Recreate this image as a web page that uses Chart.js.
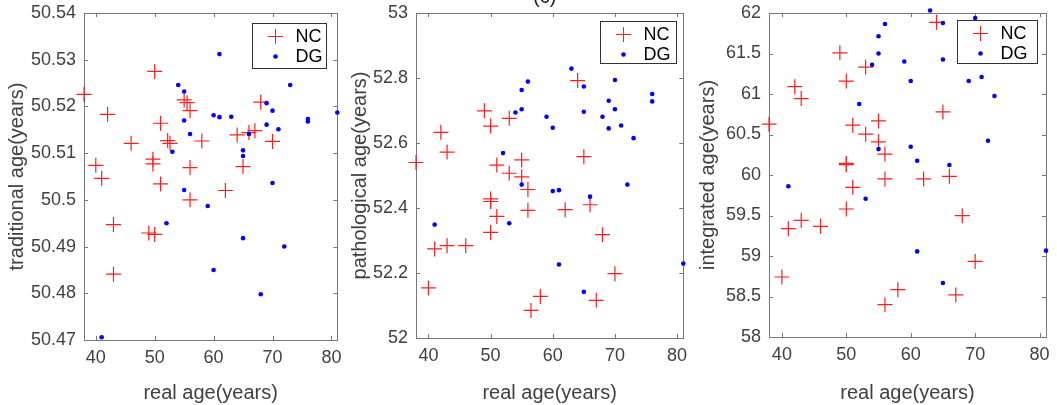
<!DOCTYPE html>
<html>
<head>
<meta charset="utf-8">
<script src="https://cdn.jsdelivr.net/npm/chart.js@4.4.1/dist/chart.umd.min.js"></script>
<style>
  html, body { margin: 0; padding: 0; background: #fff; }
  #wrap { position: relative; width: 1057px; height: 405px; overflow: hidden; }
  canvas { position: absolute; top: 0; }
</style>
</head>
<body>
<div id="wrap">
  <canvas id="c1" width="346" height="405" style="left:0"></canvas>
  <canvas id="c2" width="346" height="405" style="left:346px"></canvas>
  <canvas id="c3" width="365" height="405" style="left:692px"></canvas>
</div>
<script>
// tick labels
const xTicks = [40, 50, 60, 70, 80];
const tradTicks = [50.47, 50.48, 50.49, 50.5, 50.51, 50.52, 50.53, 50.54];
const pathTicks = [52, 52.2, 52.4, 52.6, 52.8, 53];
const intTicks = [58, 58.5, 59, 59.5, 60, 60.5, 61, 61.5, 62];

// traditional age panel
const ncAge1 = [38, 40, 41, 42, 43, 43, 46, 49, 50, 49.7, 49.7, 50, 51, 51, 52.2, 52.6, 55, 55.5, 56, 56, 56, 58, 62, 64, 65, 66, 67, 68, 70];
const ncTrad = [50.5226, 50.5074, 50.5046, 50.5183, 50.4947, 50.4841, 50.5121, 50.4929, 50.4926, 50.5087, 50.5077, 50.5275, 50.5164, 50.5034, 50.5127, 50.5121, 50.5214, 50.5208, 50.5191, 50.5069, 50.5000, 50.5126, 50.5020, 50.5139, 50.5071, 50.5144, 50.5148, 50.5209, 50.5125];
const dgAge1 = [41, 52, 53, 54, 55, 55, 55, 56, 59, 60, 60, 61, 61, 63, 65, 65, 65, 66, 68, 69, 69, 70, 70, 71, 72, 73, 76, 76, 81];
const dgTrad = [50.4706, 50.4950, 50.5103, 50.5246, 50.5232, 50.5170, 50.5021, 50.5141, 50.4987, 50.5181, 50.4850, 50.5312, 50.5177, 50.5178, 50.5106, 50.5094, 50.4918, 50.5141, 50.4798, 50.5207, 50.5161, 50.5191, 50.5036, 50.5151, 50.4900, 50.5246, 50.5173, 50.5168, 50.5187];

// pathological age panel
const ncAge2 = [38, 40, 41, 42, 43, 43, 46, 49, 50, 50, 50, 50, 51, 53, 51, 53, 55, 55, 56, 56, 56.5, 58, 62, 64, 65, 66, 67, 68, 70];
const ncPath = [52.540, 52.154, 52.274, 52.633, 52.572, 52.284, 52.284, 52.699, 52.652, 52.428, 52.420, 52.325, 52.532, 52.676, 52.374, 52.507, 52.548, 52.496, 52.457, 52.393, 52.085, 52.128, 52.395, 52.792, 52.558, 52.410, 52.116, 52.318, 52.198];
const dgAge2 = [41, 52, 53, 54, 55, 55, 55, 56, 59, 60, 60, 61, 61, 63, 65, 65, 65, 66, 68, 69, 69, 70, 70, 71, 72, 73, 76, 76, 81];
const dgPath = [52.349, 52.569, 52.353, 52.694, 52.763, 52.704, 52.472, 52.789, 52.681, 52.647, 52.452, 52.455, 52.226, 52.829, 52.774, 52.696, 52.142, 52.435, 52.681, 52.730, 52.645, 52.794, 52.704, 52.654, 52.472, 52.615, 52.751, 52.728, 52.229];

// integrated age panel
const ncAge3 = [38, 40, 41, 42, 43, 43, 46, 49, 50, 50, 50, 50, 51, 51, 53, 53, 55, 55, 56, 56, 56, 58, 62, 64, 65, 66, 67, 68, 70];
const ncInt = [60.627, 58.741, 59.337, 61.090, 60.943, 59.440, 59.366, 61.508, 61.160, 60.143, 60.127, 59.580, 60.615, 59.848, 61.332, 60.504, 60.668, 60.410, 60.258, 59.951, 58.399, 58.584, 59.951, 61.885, 60.779, 59.984, 58.519, 59.498, 58.933];
const dgAge3 = [41, 52, 53, 54, 55, 55, 55, 56, 59, 60, 60, 61, 61, 63, 65, 65, 65, 66, 69, 70, 71, 72, 73, 81];
const dgInt = [59.861, 60.877, 59.707, 61.361, 61.713, 61.500, 60.320, 61.865, 61.402, 61.160, 60.348, 60.176, 59.057, 62.030, 61.877, 61.426, 58.667, 60.123, 61.160, 61.939, 61.209, 60.422, 60.975, 59.066];

const FONT = "'Liberation Sans', Arial, sans-serif";
const TXT = '#404040';

function pts(xs, ys) {
  return xs.map((x, i) => ({x: x, y: ys[i]}));
}

// MATLAB style box with inward ticks
const axesBox = {
  id: 'axesBox',
  beforeDatasetsDraw(chart) {
    const {ctx, chartArea: a, scales: {x, y}} = chart;
    ctx.save();
    ctx.strokeStyle = '#777';
    ctx.lineWidth = 1;
    ctx.strokeRect(Math.round(a.left) + 0.5, Math.round(a.top) + 0.5, Math.round(a.right - a.left), Math.round(a.bottom - a.top));
    ctx.beginPath();
    x.ticks.forEach(t => {
      const px = Math.round(x.getPixelForValue(t.value)) + 0.5;
      ctx.moveTo(px, a.bottom); ctx.lineTo(px, a.bottom - 4);
      ctx.moveTo(px, a.top); ctx.lineTo(px, a.top + 4);
    });
    y.ticks.forEach(t => {
      const py = Math.round(y.getPixelForValue(t.value)) + 0.5;
      ctx.moveTo(a.left, py); ctx.lineTo(a.left + 4, py);
      ctx.moveTo(a.right, py); ctx.lineTo(a.right - 4, py);
    });
    ctx.stroke();
    ctx.restore();
  }
};

// opaque legend box inside the top right corner
const boxLegend = {
  id: 'boxLegend',
  afterDatasetsDraw(chart, args, opts) {
    const {ctx, chartArea: a} = chart;
    const left = Math.round(a.right - opts.right - opts.w) + 0.5;
    const top = Math.round(a.top + opts.top) + 0.5;
    ctx.save();
    ctx.fillStyle = '#fff';
    ctx.fillRect(left, top, opts.w, opts.h);
    ctx.strokeStyle = '#333';
    ctx.lineWidth = 1;
    ctx.strokeRect(left, top, opts.w, opts.h);
    ctx.font = '18px ' + FONT;
    ctx.textBaseline = 'middle';
    chart.data.datasets.forEach((ds, i) => {
      const cy = top + 13 + i * 20;
      ctx.strokeStyle = ds.borderColor;
      ctx.fillStyle = ds.backgroundColor || ds.borderColor;
      Chart.helpers.drawPoint(ctx, {pointStyle: ds.pointStyle, radius: ds.pointRadius, borderWidth: ds.borderWidth, rotation: 0}, left + 23, cy);
      ctx.fillStyle = '#000';
      ctx.fillText(ds.label, left + 43, cy + 1);
    });
    ctx.restore();
  }
};

// panel caption, mostly cut off at the top edge
const topTitle = {
  id: 'topTitle',
  afterDraw(chart, args, opts) {
    if (!opts.text) return;
    const {ctx, chartArea: a} = chart;
    ctx.save();
    ctx.font = '20px ' + FONT;
    ctx.fillStyle = '#222';
    ctx.textAlign = 'center';
    ctx.textBaseline = 'alphabetic';
    ctx.fillText(opts.text, (a.left + a.right) / 2 - 5, 3);
    ctx.restore();
  }
};

function makePanel(id, cfg) {
  return new Chart(document.getElementById(id), {
    type: 'scatter',
    data: {
      datasets: [
        {label: 'NC', data: cfg.nc, pointStyle: 'cross', pointRadius: 7.5, borderColor: 'rgb(255,30,30)', borderWidth: 1.2, order: 1, clip: false},
        {label: 'DG', data: cfg.dg, pointStyle: 'circle', pointRadius: 2.3, backgroundColor: 'rgb(0,0,255)', borderColor: 'rgb(0,0,255)', borderWidth: 0, order: 0, clip: false}
      ]
    },
    options: {
      responsive: false,
      animation: false,
      events: [],
      layout: {padding: {top: 13, right: cfg.padRight, left: 0, bottom: 0}},
      plugins: {
        legend: {display: false},
        tooltip: {enabled: false},
        boxLegend: cfg.legend,
        topTitle: {text: cfg.title || ''}
      },
      scales: {
        x: {
          type: 'linear', min: 38, max: 81,
          afterBuildTicks: s => { s.ticks = xTicks.map(v => ({value: v})); },
          afterFit: s => { s.height = cfg.xHeight; s.paddingLeft = 0; s.paddingRight = 0; },
          grid: {display: false, drawTicks: false},
          border: {display: false},
          ticks: {padding: 7, color: TXT, font: {family: FONT, size: 18}, callback: v => String(v)},
          title: {display: true, text: 'real age(years)', color: TXT, font: {family: FONT, size: 20}, padding: {top: 0, bottom: 0}}
        },
        y: {
          type: 'linear', min: cfg.yTicks[0], max: cfg.yTicks[cfg.yTicks.length - 1],
          afterBuildTicks: s => { s.ticks = cfg.yTicks.map(v => ({value: v})); },
          afterFit: s => { s.width = cfg.yWidth; s.paddingTop = 0; s.paddingBottom = 0; },
          grid: {display: false, drawTicks: false},
          border: {display: false},
          ticks: {padding: 8, color: TXT, font: {family: FONT, size: 18}, callback: v => String(v)},
          title: {display: true, text: cfg.yLabel, color: TXT, font: {family: FONT, size: 20}, padding: {top: cfg.yTitlePad, bottom: 0}}
        }
      }
    },
    plugins: [axesBox, boxLegend, topTitle]
  });
}

makePanel('c1', {
  nc: pts(ncAge1, ncTrad), dg: pts(dgAge1, dgTrad),
  yTicks: tradTicks, yLabel: 'traditional age(years)',
  xHeight: 65, yWidth: 84, padRight: 4, yTitlePad: 5,
  legend: {right: 11, top: 10, w: 74, h: 45}
});
makePanel('c2', {
  nc: pts(ncAge2, ncPath), dg: pts(dgAge2, dgPath),
  yTicks: pathTicks, yLabel: 'pathological age(years)',
  xHeight: 67, yWidth: 70, padRight: 2, yTitlePad: 2,
  legend: {right: 7, top: 8, w: 76, h: 42},
  title: '(c)'
});
makePanel('c3', {
  nc: pts(ncAge3, ncInt), dg: pts(dgAge3, dgInt),
  yTicks: intTicks, yLabel: 'integrated age(years)',
  xHeight: 68, yWidth: 77, padRight: 11, yTitlePad: 4,
  legend: {right: 9, top: 7, w: 80, h: 43}
});
</script>
</body>
</html>
